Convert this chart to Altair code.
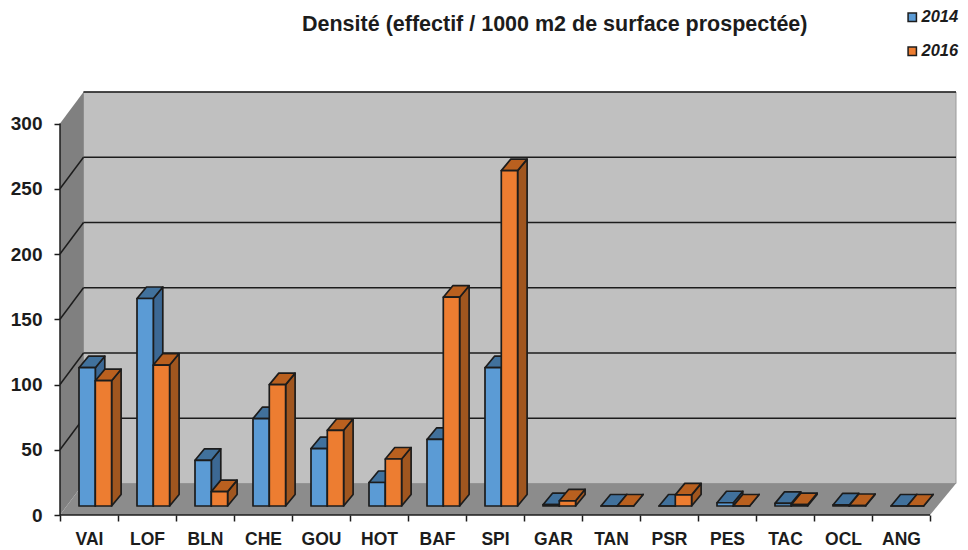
import json
import altair as alt
import pandas as pd

CATS = ["VAI","LOF","BLN","CHE","GOU","HOT","BAF","SPI","GAR","TAN","PSR","PES","TAC","OCL","ANG"]
V2014 = [106,159,35,67,44,18,51,106,1,0,0,2.5,2,0.8,0]
V2016 = [96,108,11,93,58,36,160,257,4,0,8.5,0,1,0.4,0]
YEARS = ["2014","2016"]
FRONT = ["#5b9bd5","#ed7d31"]
TOP = ["#41719c","#b9601f"]
SIDE = ["#3c6894","#a0561f"]
TICKS = [0,50,100,150,200,250,300]
TITLE = "Densité (effectif / 1000 m2 de surface prospectée)"
FONT = "Liberation Sans"
INK = "#1c1c1c"

SX, SY = 58.0, 1.305          # px per slot, px per value unit
W, H = 896, 424
RIGHT = W/SX
DX, DY = 23.5/SX, 31.5/SY     # chart depth
BY = 9/SY                     # bars' placement inside the depth
dX, dY = 9.5/SX, 11.5/SY      # bar depth
LEFT, BW = 19/SX, 16.3/SX     # bar start in slot, bar width
N = len(CATS)

xs = alt.Scale(domain=[0, W/SX], nice=False, zero=False)
ys = alt.Scale(domain=[0, H/SY], nice=False, zero=False)

def X(f="x", **k): return alt.X(f+":Q", scale=xs, axis=None, **k)
def Y(f="y", **k): return alt.Y(f+":Q", scale=ys, axis=None, stack=None, **k)

# ---- room
left_wall = alt.Chart(pd.DataFrame({"x":[0,DX],"y":[0,DY],"y2":[300,300+DY]})).mark_area(fill="#808080").encode(
    x=X(), y=Y(), y2="y2:Q")
back_wall = alt.Chart(pd.DataFrame({"x":[DX],"x2":[RIGHT],"y":[DY],"y2":[300+DY]})).mark_rect(
    fill="#c0c0c0", stroke="#9a9a9a", strokeWidth=1).encode(x=X(), x2="x2:Q", y=Y(), y2="y2:Q")
floor = alt.Chart(pd.DataFrame({"y":[0,DY],"x":[0,DX],"x2":[N,RIGHT]})).mark_area(
    fill="#8c8c8c", orient="horizontal").encode(
    x=alt.X("x:Q", scale=xs, axis=None, stack=None), x2="x2:Q", y=alt.Y("y:Q", scale=ys, axis=None))

grid_vals = TICKS[1:]
back_grid = alt.Chart(pd.DataFrame({"x":[DX]*len(grid_vals),"x2":[RIGHT]*len(grid_vals),"y":[v+DY for v in grid_vals]})).mark_rule(
    color=INK, strokeWidth=1.5).encode(x=X(), x2="x2:Q", y=Y())
rows = []
for v in grid_vals[:-1]:
    rows += [{"v":v,"x":0,"y":v},{"v":v,"x":DX,"y":v+DY}]
side_grid = alt.Chart(pd.DataFrame(rows)).mark_line(color=INK, strokeWidth=1.5).encode(x=X(), y=Y(), detail="v:N")

# ---- axes
names = json.dumps(CATS + [""])
axis_layer = alt.Chart(pd.DataFrame({"x":[0],"y":[0]})).mark_point(opacity=0).encode(
    x=alt.X("x:Q", scale=xs, title=None, axis=alt.Axis(
        values=list(range(N+1)), domain=False, grid=False, tickColor=INK, tickWidth=1.5, tickSize=6,
        labelExpr=names+"[datum.value]", labelOffset=SX/2, labelFont=FONT, labelFontWeight="bold",
        labelFontSize=17.5, labelColor=INK, labelPadding=9, labelOverlap=False, labelBound=False, labelFlush=False)),
    y=alt.Y("y:Q", scale=ys, title=None, axis=alt.Axis(
        values=TICKS, domain=False, grid=False, tickColor=INK, tickWidth=1.5, tickSize=6,
        labelFont=FONT, labelFontWeight="bold", labelFontSize=19, labelColor=INK, labelPadding=12,
        labelOverlap=False, labelBound=False, labelFlush=False)))
y_line = alt.Chart(pd.DataFrame({"x":[0],"y":[0],"y2":[300]})).mark_rule(color=INK, strokeWidth=1.5).encode(x=X(), y=Y(), y2="y2:Q")
x_line = alt.Chart(pd.DataFrame({"x":[0],"x2":[N],"y":[0]})).mark_rule(color=INK, strokeWidth=1.5).encode(x=X(), x2="x2:Q", y=Y())

# ---- bars
def series_layers(k, vals):
    front, top, side = [], [], []
    for i, (c, v) in enumerate(zip(CATS, vals)):
        x0 = i + LEFT + k*BW
        x1 = x0 + BW
        b, t = BY, BY + v
        front.append({"c":c,"s":YEARS[k],"x":x0,"x2":x1,"y":b,"y2":t})
        top += [{"c":c,"x":x0,"x2":x1,"y":t},{"c":c,"x":x0+dX,"x2":x1+dX,"y":t+dY}]
        side += [{"c":c,"x":x1,"y":b,"y2":t},{"c":c,"x":x1+dX,"y":b+dY,"y2":t+dY}]
    st = dict(stroke=INK, strokeWidth=1.7, strokeJoin="round")
    l_side = alt.Chart(pd.DataFrame(side)).mark_area(fill=SIDE[k], **st).encode(x=X(), y=Y(), y2="y2:Q", detail="c:N")
    l_top = alt.Chart(pd.DataFrame(top)).mark_area(fill=TOP[k], orient="horizontal", **st).encode(
        x=alt.X("x:Q", scale=xs, axis=None, stack=None), x2="x2:Q", y=alt.Y("y:Q", scale=ys, axis=None), detail="c:N")
    l_front = alt.Chart(pd.DataFrame(front)).mark_rect(**st).encode(
        x=X(), x2="x2:Q", y=Y(), y2="y2:Q",
        color=alt.Color("s:N", scale=alt.Scale(domain=YEARS, range=FRONT), legend=alt.Legend(
            title=None, orient="none", legendX=844, legendY=-82, symbolType="square", symbolSize=70,
            symbolStrokeColor=INK, symbolStrokeWidth=1.5, rowPadding=17, labelFont=FONT, labelFontSize=16.5,
            labelFontWeight="bold", labelFontStyle="italic", labelColor=INK, labelOffset=1)))
    return [l_side, l_top, l_front]

layers = [back_wall, left_wall, floor, back_grid, side_grid, axis_layer, y_line, x_line]
for k, vals in enumerate([V2014, V2016]):
    layers += series_layers(k, vals)

chart = alt.layer(*layers).resolve_axis(x="independent", y="independent").properties(
    width=W, height=H,
    padding={"left":52,"top":83,"right":4,"bottom":34},
    autosize=alt.AutoSizeParams(type="none"),
    title=alt.TitleParams(TITLE, anchor="start", frame="group", dx=242, dy=26, offset=0, font=FONT,
                          fontSize=21.5, fontWeight="bold", color=INK),
).configure_view(stroke=None)

chart.save("out.html", embed_options={"renderer": "svg", "actions": False})
